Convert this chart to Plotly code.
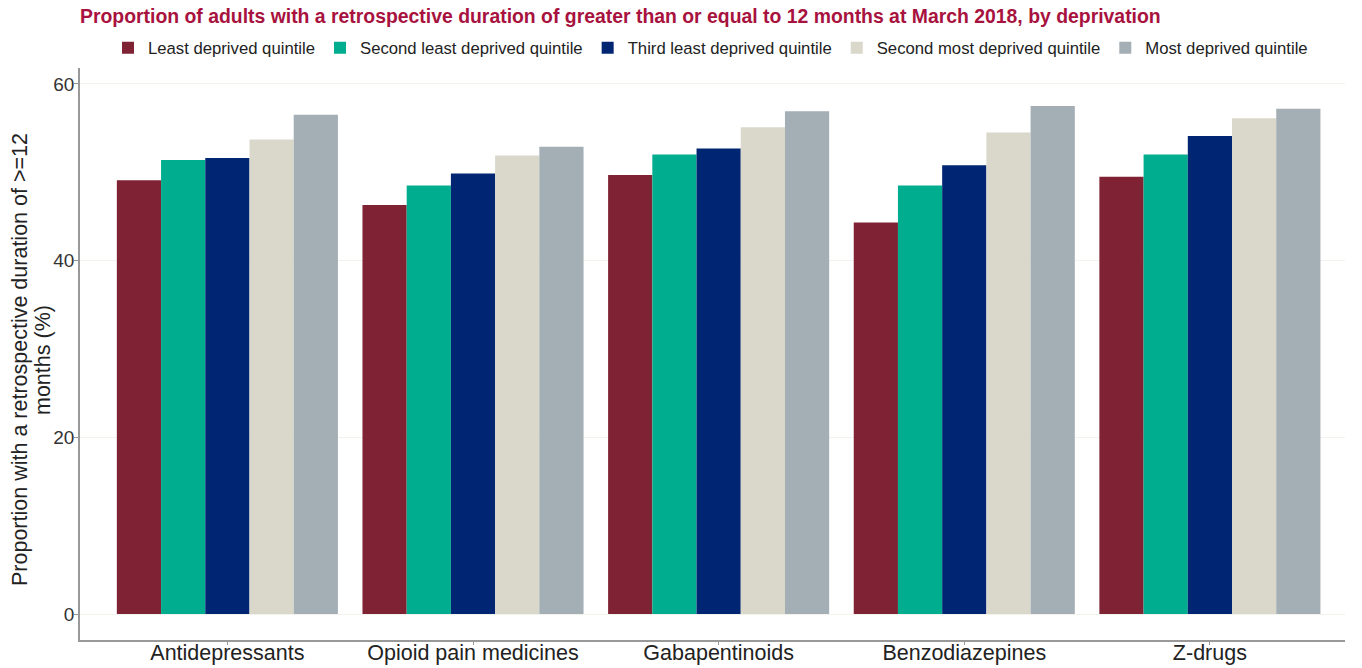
import plotly.graph_objects as go

categories = ["Antidepressants", "Opioid pain medicines", "Gabapentinoids", "Benzodiazepines", "Z-drugs"]
series_names = ["Least deprived quintile", "Second least deprived quintile", "Third least deprived quintile",
                "Second most deprived quintile", "Most deprived quintile"]
least = [49.1, 46.3, 49.7, 44.3, 49.5]
second_least = [51.4, 48.5, 52.0, 48.5, 52.0]
third_least = [51.6, 49.85, 52.7, 50.8, 54.1]
second_most = [53.7, 51.9, 55.1, 54.5, 56.1]
most = [56.5, 52.9, 56.9, 57.5, 57.2]
colors = ["#7f2233", "#00ae8f", "#002673", "#dad8cb", "#a4aeb5"]
y_title_lines = ["Proportion with a retrospective duration of >=12", "months (%)"]

values = [least, second_least, third_least, second_most, most]

W, H = 1362, 668
L, R, T, B = 80, 17, 68, 28
pw, ph = W - L - R, H - T - B

fig = go.Figure()
for name, vals, col in zip(series_names, values, colors):
    fig.add_trace(go.Bar(x=categories, y=vals, name=name, marker=dict(color=col, line=dict(width=0))))

annotations = []
for line, xc in zip(y_title_lines, [20, 43]):
    annotations.append(dict(text=line, textangle=-90, xref="paper", yref="paper",
                            x=(xc - L) / pw, y=(H - B - 360) / ph, xanchor="center", yanchor="middle",
                            showarrow=False, font=dict(size=21.5, color="#222")))

fig.update_layout(
    width=W, height=H,
    barmode="group", bargap=0.1, bargroupgap=0,
    plot_bgcolor="white", paper_bgcolor="white",
    font=dict(family="Liberation Sans, Arial, sans-serif", color="#222"),
    margin=dict(l=L, r=R, t=T, b=B, autoexpand=False),
    title=dict(text="<b>Proportion of adults with a retrospective duration of greater than or equal to 12 months at March 2018, by deprivation</b>",
               x=0, xref="paper", xanchor="left", y=1 - 16 / H, yref="container", yanchor="middle",
               font=dict(size=19.4, color="#a8123e")),
    legend=dict(orientation="h", x=(108 - L) / pw, xanchor="left", y=(H - B - 48) / ph, yanchor="middle",
                font=dict(size=16.7, color="#222"), itemwidth=30, traceorder="normal"),
    showlegend=True,
    annotations=annotations,
)
fig.update_xaxes(range=[-0.6, 4.55], showline=True, linecolor="#999", linewidth=1.5,
                 ticks="outside", ticklen=3, tickcolor="#999", tickfont=dict(size=21.5, color="#222"),
                 ticklabelstandoff=-11, showgrid=False)
fig.update_yaxes(range=[-2.94, 61.8], tickvals=[0, 20, 40, 60], showline=True, linecolor="#999", linewidth=1.5,
                 ticks="outside", ticklen=4, tickcolor="#999", tickfont=dict(size=19, color="#333"),
                 ticklabelstandoff=-4,
                 showgrid=True, gridcolor="#f3f3ee", gridwidth=1, zeroline=False)

fig.write_html("out.html", config={"displayModeBar": False},
               post_script="document.body.style.margin='0';document.body.style.overflow='hidden';")
